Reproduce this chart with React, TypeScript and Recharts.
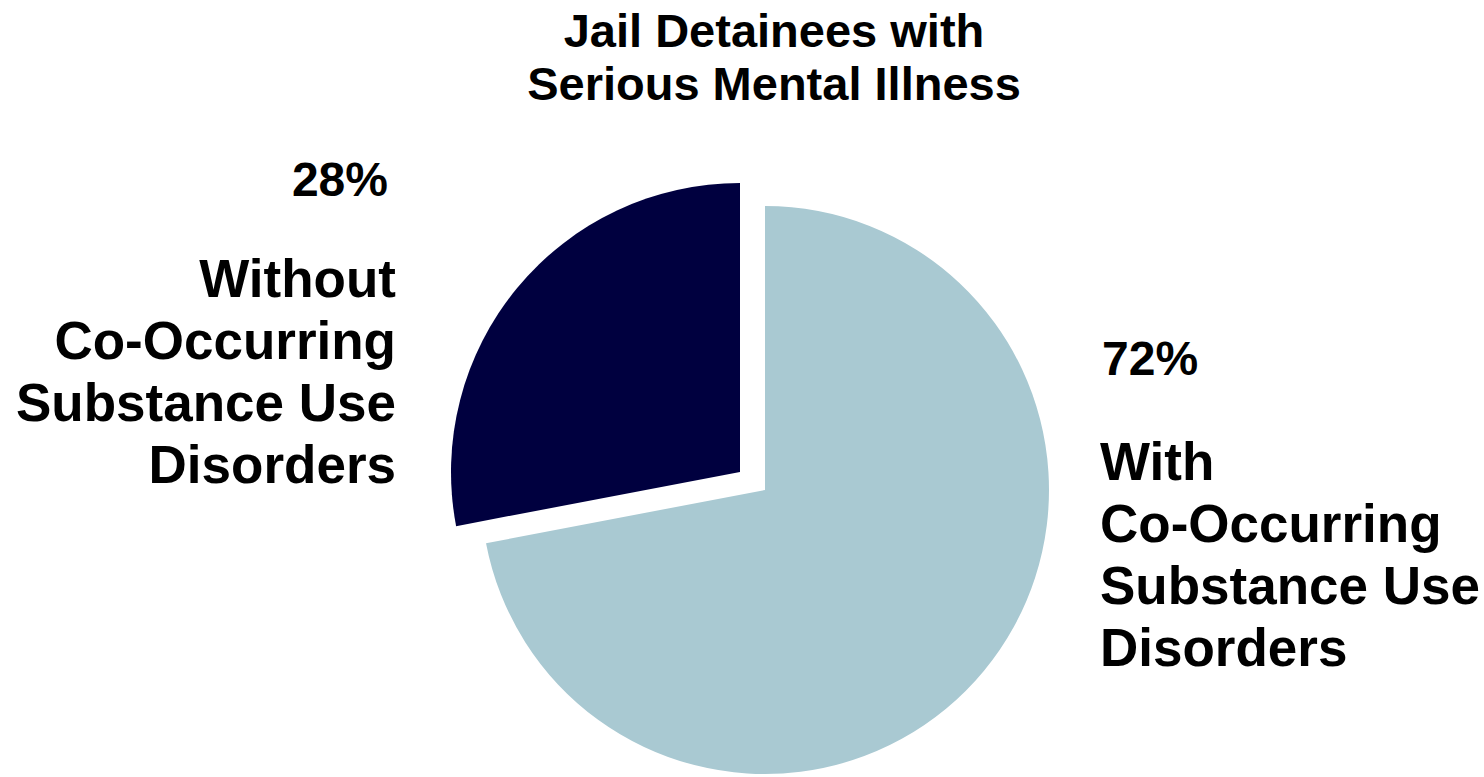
import React from 'react';
import { PieChart, Pie, Cell } from 'recharts';

const categories = ['With Co-Occurring Substance Use Disorders', 'Without Co-Occurring Substance Use Disorders'];
const shares = [72, 28];
const labelLines = [
  ['With', 'Co-Occurring', 'Substance Use', 'Disorders'],
  ['Without', 'Co-Occurring', 'Substance Use', 'Disorders'],
];
const titleLines = ['Jail Detainees with', 'Serious Mental Illness'];

const colors = ['#a9c9d2', '#00003f'];
const FONT = '"Liberation Sans", Arial, Helvetica, sans-serif';

const data = categories.map((name, i) => ({ name, value: shares[i] }));

function SliceLabel(props: any) {
  const { index, value, cx, cy } = props;
  const lines = labelLines[index];
  // light slice text sits on the right, dark slice text on the left
  const right = index === 0;
  const x = right ? cx + 335 : cx - 369;
  const top = right ? cy - 115 : cy - 294;
  const anchor = right ? 'start' : 'end';
  const pctX = right ? x + 2 : x - 8;
  const gap = right ? 105 : 101;
  return (
    <g>
      <text x={pctX} y={top} textAnchor={anchor} fontFamily={FONT} fontWeight="bold" fontSize={48} fill="#000">
        {value}%
      </text>
      {lines.map((ln, i) => (
        <text key={i} x={x} y={top + gap + i * 62} textAnchor={anchor} fontFamily={FONT} fontWeight="bold" fontSize={53} fill="#000">
          {ln}
        </text>
      ))}
    </g>
  );
}

export default function App() {
  return (
    <div style={{ position: 'absolute', left: 0, top: 0, background: '#fff' }}>
      <PieChart width={1484} height={777} margin={{ top: 0, right: 0, bottom: 0, left: 0 }}>
        {titleLines.map((t, i) => (
          <text key={t} x={774} y={47 + i * 53} textAnchor="middle" fontFamily={FONT} fontWeight="bold" fontSize={47} fill="#000">
            {t}
          </text>
        ))}
        <Pie
          data={data}
          dataKey="value"
          cx={765}
          cy={490}
          outerRadius={284}
          startAngle={90}
          endAngle={-270}
          stroke="none"
          isAnimationActive={false}
          labelLine={false}
          label={SliceLabel}
        >
          {data.map((d, i) => (
            <Cell key={d.name} fill={i === 0 ? colors[0] : 'none'} stroke="none" />
          ))}
        </Pie>
        <Pie
          data={data}
          dataKey="value"
          cx={740}
          cy={472}
          outerRadius={289}
          startAngle={90}
          endAngle={-270}
          stroke="none"
          isAnimationActive={false}
        >
          {data.map((d, i) => (
            <Cell key={d.name} fill={i === 1 ? colors[1] : 'none'} stroke="none" />
          ))}
        </Pie>
      </PieChart>
    </div>
  );
}
